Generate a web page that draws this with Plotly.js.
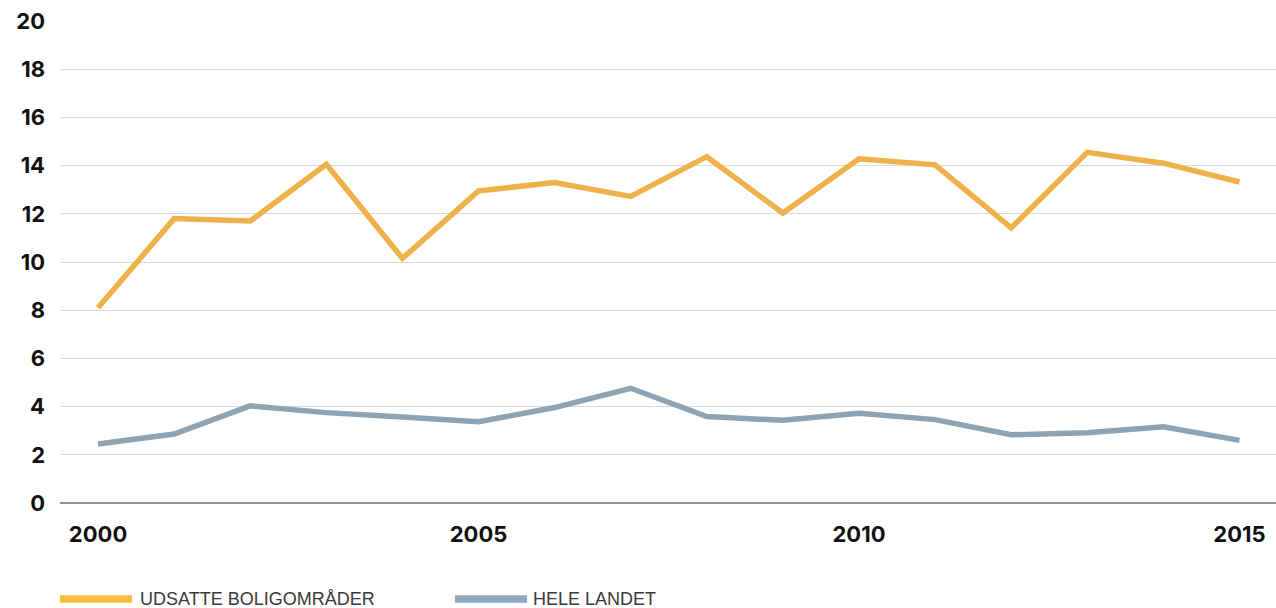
<!DOCTYPE html>
<html>
<head>
<meta charset="utf-8">
<script src="https://cdn.plot.ly/plotly-3.0.1.min.js"></script>
<style>
html,body{margin:0;padding:0;background:#fff;}
#chart{width:1276px;height:608px;}
</style>
</head>
<body>
<div id="chart"></div>
<script>
var years = [2000,2001,2002,2003,2004,2005,2006,2007,2008,2009,2010,2011,2012,2013,2014,2015];
var udsatte = [8.1,11.8,11.7,14.05,10.15,12.95,13.3,12.72,14.37,12.03,14.28,14.03,11.42,14.55,14.1,13.32];
var heleLandet = [2.45,2.86,4.03,3.75,3.57,3.37,3.96,4.76,3.59,3.43,3.72,3.46,2.83,2.92,3.16,2.6];
var seriesNames = ["UDSATTE BOLIGOMRÅDER","HELE LANDET"];
var seriesColors = ["#EFB24B","#8FA3B3"];
var legendColors = ["#FBBC3A","#93A9BF"];
var xTickVals = [2000,2005,2010,2015];
var xTickText = ["2000","2005","2010","2015"];
var yTickVals = [0,2,4,6,8,10,12,14,16,18,20];

var W = 1276, H = 608, ml = 60, mr = 0, mt = 21, mb = 105;
var pw = W - ml - mr, ph = H - mt - mb;
function px(x){ return (x - ml) / pw; }
function py(y){ return (H - mb - y) / ph; }

var tickFont = {family:"Inter, 'Liberation Sans', Arial, sans-serif", size:22, weight:700, color:"#111111"};

var traces = [
  {x:years, y:udsatte, type:"scatter", mode:"lines", name:seriesNames[0],
   line:{color:seriesColors[0], width:5.5}, showlegend:false, hoverinfo:"x+y"},
  {x:years, y:heleLandet, type:"scatter", mode:"lines", name:seriesNames[1],
   line:{color:seriesColors[1], width:5.5}, showlegend:false, hoverinfo:"x+y"}
];

var legY = 599;
var legendItems = [
  {x0:60, x1:132, tx:138},
  {x0:455, x1:527, tx:531}
];
var shapes = [], annotations = [];
legendItems.forEach(function(it, i){
  shapes.push({type:"line", xref:"paper", yref:"paper",
    x0:px(it.x0), x1:px(it.x1), y0:py(legY), y1:py(legY),
    line:{color:legendColors[i], width:7.5}});
  annotations.push({xref:"paper", yref:"paper", x:px(it.tx), y:py(legY),
    xanchor:"left", yanchor:"middle", showarrow:false, text:seriesNames[i],
    font:{family:"'Liberation Sans', Arial, sans-serif", size:18, color:"#3a3a3a"}});
});

var layout = {
  width:W, height:H,
  margin:{l:ml, r:mr, t:mt, b:mb, pad:0},
  paper_bgcolor:"#ffffff", plot_bgcolor:"#ffffff",
  showlegend:false,
  xaxis:{range:[1999.5, 2015.48], tickvals:xTickVals, ticktext:xTickText,
    showgrid:false, zeroline:false, showline:false, ticks:"",
    tickfont:tickFont, ticklabelstandoff:16, fixedrange:true},
  yaxis:{range:[0,20], tickvals:yTickVals, showgrid:true, gridcolor:"#DADADA", gridwidth:1,
    zeroline:true, zerolinecolor:"#949494", zerolinewidth:1.5,
    showline:false, ticks:"", tickfont:tickFont, ticklabelstandoff:14, fixedrange:true},
  shapes:shapes,
  annotations:annotations
};

Plotly.newPlot("chart", traces, layout, {displayModeBar:false, staticPlot:false});
</script>
</body>
</html>
